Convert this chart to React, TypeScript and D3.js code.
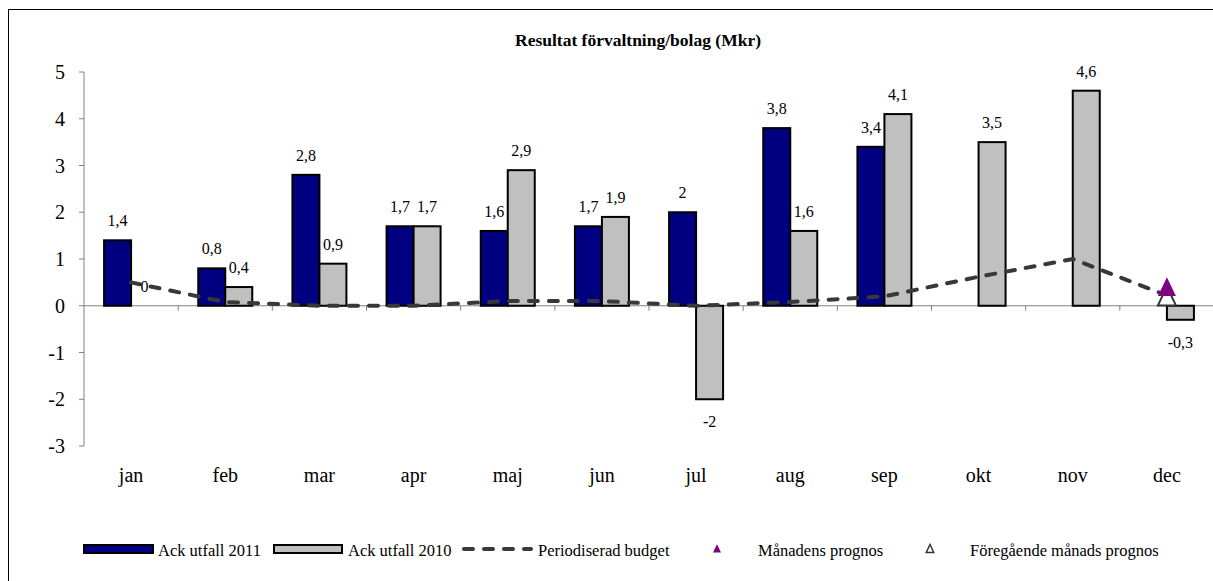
import React from "react";
import * as d3 from "d3";

const months = ["jan","feb","mar","apr","maj","jun","jul","aug","sep","okt","nov","dec"];
const utfall2011: (number | null)[] = [1.4,0.8,2.8,1.7,1.6,1.7,2,3.8,3.4,null,null,null];
const utfall2010: number[] = [0,0.4,0.9,1.7,2.9,1.9,-2,1.6,4.1,3.5,4.6,-0.3];
const budget: number[] = [0.5,0.08,0,0,0.1,0.1,0,0.08,0.2,0.62,1.0,0.22];
const manadensPrognos: (number | null)[] = [null,null,null,null,null,null,null,null,null,null,null,0.38];
const foregaendePrognos: (number | null)[] = [null,null,null,null,null,null,null,null,null,null,null,0.18];
const yTicks = [-3,-2,-1,0,1,2,3,4,5];

const fmt = (v: number) => String(v).replace(".", ",");

export default function App() {
  const W = 1213, H = 581;
  const left = 84, right = 1214, top = 72, bottom = 446;
  const x = d3.scaleBand<string>().domain(months).range([left, right]).paddingInner(0).paddingOuter(0);
  const y = d3.scaleLinear().domain([-3, 5]).range([bottom, top]);
  const bw = 27;
  const y0 = y(0);
  const cx = (m: string) => (x(m) as number) + x.bandwidth() / 2;
  const line = d3.line<number>().x((_, i) => cx(months[i])).y(d => y(d));
  const font = "'Liberation Serif', 'Times New Roman', serif";
  const tri = (px: number, py: number, s: number) =>
    `M${px},${py - s * 0.6} L${px + s * 0.5},${py + s * 0.45} L${px - s * 0.5},${py + s * 0.45} Z`;

  return (
    <svg width={W} height={H} style={{ position: "absolute", left: 0, top: 0, background: "#fff" }} fontFamily={font}>
      <rect x={8.5} y={9.5} width={1210} height={600} fill="#fff" stroke="#000" strokeWidth={1} />
      <text x={638} y={46} textAnchor="middle" fontSize={17.5} fontWeight="bold">Resultat förvaltning/bolag (Mkr)</text>
      {/* y axis */}
      <line x1={left} x2={left} y1={top} y2={bottom} stroke="#808080" strokeWidth={1} />
      {yTicks.map(t => (
        <g key={t}>
          <line x1={left - 5} x2={left} y1={y(t)} y2={y(t)} stroke="#808080" />
          <text x={65} y={y(t) + 7} textAnchor="end" fontSize={20}>{t}</text>
        </g>
      ))}
      {/* x axis */}
      <line x1={left} x2={right} y1={y0} y2={y0} stroke="#808080" />
      {months.map((m, i) => (
        <g key={m}>
          {i > 0 && <line x1={x(m)} x2={x(m)} y1={y0} y2={y0 + 5} stroke="#808080" />}
          <text x={cx(m)} y={482} textAnchor="middle" fontSize={20}>{m}</text>
        </g>
      ))}
      {/* bars */}
      {months.map((m, i) => {
        const v1 = utfall2011[i];
        const v2 = utfall2010[i];
        const c = cx(m);
        return (
          <g key={"b" + m}>
            {v1 !== null && (
              <rect x={c - bw} y={Math.min(y(v1), y0)} width={bw} height={Math.abs(y(v1) - y0)} fill="#000080" stroke="#000" strokeWidth={2} />
            )}
            {v2 !== 0 && (
              <rect x={c} y={Math.min(y(v2), y0)} width={bw} height={Math.abs(y(v2) - y0)} fill="#C0C0C0" stroke="#000" strokeWidth={2} />
            )}
          </g>
        );
      })}
      {/* budget line */}
      <path d={line(budget) as string} fill="none" stroke="#383838" strokeWidth={4} strokeDasharray="9,11" strokeLinecap="round" />
      {/* prognos markers */}
      {months.map((m, i) => {
        const p = foregaendePrognos[i];
        return p !== null ? <path key={"f" + m} d={tri(cx(m), y(p), 18)} fill="#fff" stroke="#333" strokeWidth={2} /> : null;
      })}
      {months.map((m, i) => {
        const p = manadensPrognos[i];
        return p !== null ? <path key={"p" + m} d={tri(cx(m), y(p), 18)} fill="#800080" /> : null;
      })}
      {/* labels */}
      {months.map((m, i) => {
        const v1 = utfall2011[i];
        const v2 = utfall2010[i];
        const c = cx(m);
        return (
          <g key={"l" + m} fontSize={16}>
            {v1 !== null && (
              <text x={c - bw / 2} y={v1 >= 0 ? y(v1) - 14 : y(v1) + 28} textAnchor="middle">{fmt(v1)}</text>
            )}
            <text x={c + bw / 2} y={v2 >= 0 ? y(v2) - 14 : y(v2) + 28} textAnchor="middle">{fmt(v2)}</text>
          </g>
        );
      })}
      {/* legend */}
      <g fontSize={16.5}>
        <rect x={84} y={545} width={69} height={8} fill="#000080" stroke="#000" strokeWidth={2} />
        <text x={158} y={556}>Ack utfall 2011</text>
        <rect x={274} y={545} width={68} height={8} fill="#C0C0C0" stroke="#000" strokeWidth={2} />
        <text x={348} y={556}>Ack utfall 2010</text>
        <line x1={464} x2={531} y1={549} y2={549} stroke="#383838" strokeWidth={4} strokeDasharray="9,11" strokeLinecap="round" />
        <text x={538} y={556}>Periodiserad budget</text>
        <path d={tri(717, 549, 8)} fill="#800080" />
        <text x={758} y={556}>Månadens prognos</text>
        <path d={tri(930, 549, 7.5)} fill="#fff" stroke="#333" strokeWidth={1.5} />
        <text x={970} y={556}>Föregående månads prognos</text>
      </g>
    </svg>
  );
}
